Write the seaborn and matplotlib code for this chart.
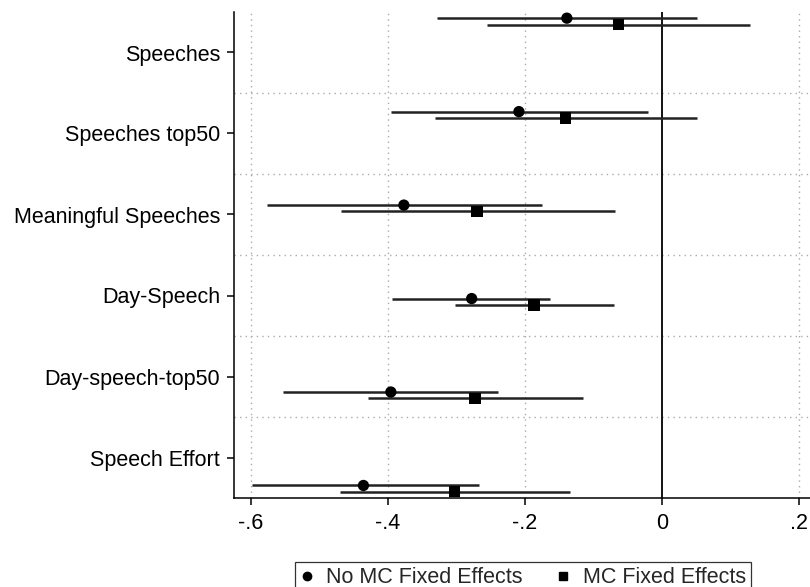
import numpy as np
import pandas as pd
import matplotlib
matplotlib.use('Agg')
import matplotlib.pyplot as plt
from matplotlib.lines import Line2D
from matplotlib.ticker import FuncFormatter
import seaborn as sns

# Outcomes, top to bottom
categories = ['Speeches', 'Speeches top50', 'Meaningful Speeches',
              'Day-Speech', 'Day-speech-top50', 'Speech Effort']

# No MC fixed effects: point estimate and 95% CI
no_mc_coef = [-0.139, -0.209, -0.377, -0.278, -0.396, -0.436]
no_mc_lo = [-0.329, -0.396, -0.577, -0.394, -0.553, -0.599]
no_mc_hi = [0.051, -0.021, -0.176, -0.163, -0.239, -0.268]

# MC fixed effects
mc_coef = [-0.064, -0.141, -0.270, -0.187, -0.273, -0.303]
mc_lo = [-0.256, -0.331, -0.469, -0.303, -0.430, -0.470]
mc_hi = [0.129, 0.051, -0.069, -0.070, -0.115, -0.134]

models = ['No MC Fixed Effects', 'MC Fixed Effects']
x_ticks = [-0.6, -0.4, -0.2, 0.0, 0.2]


def stata_fmt(v, _pos):
    """Stata-style tick labels: -.6, 0, .2"""
    if abs(v) < 1e-9:
        return '0'
    s = f'{v:.1f}'
    return s.replace('0.', '.')


def main():
    sns.set_style('white')
    plt.rcParams['font.family'] = ['Liberation Sans', 'DejaVu Sans']

    n = len(categories)
    rows = np.arange(n)
    offset = 0.034

    df = pd.DataFrame({
        'row': np.concatenate([rows - offset, rows + offset]),
        'coef': no_mc_coef + mc_coef,
        'lo': no_mc_lo + mc_lo,
        'hi': no_mc_hi + mc_hi,
        'model': [models[0]] * n + [models[1]] * n,
    })

    fig = plt.figure(figsize=(8.1, 5.87), dpi=100)
    ax = fig.add_axes([234 / 810, 1 - 498 / 587, 1 - 234 / 810, (498 - 12) / 587])

    ylo, yhi = -0.1, n - 1 + 0.1
    band = (yhi - ylo) / n

    # grid
    for xv in x_ticks:
        if xv != 0:
            ax.axvline(xv, color='#aaaaaa', lw=1.0, ls=(0, (1, 3)), zorder=0)
    for k in range(1, n):
        ax.axhline(ylo + k * band, color='#aaaaaa', lw=1.0, ls=(0, (1, 3)), zorder=0)
    ax.axvline(0, color='black', lw=1.3, zorder=1)

    ax.hlines(df['row'], df['lo'], df['hi'], color='#222222', lw=1.8, zorder=2)
    sns.scatterplot(data=df, x='coef', y='row', style='model', markers={models[0]: 'o', models[1]: 's'},
                    color='black', s=66, edgecolor='none', legend=False, ax=ax, zorder=3)

    ax.set_xlim(-0.625, 0.216)
    ax.set_ylim(yhi, ylo)
    ax.set_xticks(x_ticks)
    ax.xaxis.set_major_formatter(FuncFormatter(stata_fmt))
    ax.set_yticks([ylo + (k + 0.5) * band for k in range(n)])
    ax.set_yticklabels(categories)
    ax.set_xlabel('')
    ax.set_ylabel('')

    for side in ['top', 'right']:
        ax.spines[side].set_visible(False)
    for side in ['left', 'bottom']:
        ax.spines[side].set_color('black')
        ax.spines[side].set_linewidth(1.1)
    ax.tick_params(axis='both', which='major', labelsize=15.5, length=5, width=1.1,
                   color='black', labelcolor='black', direction='out', left=True, bottom=True)
    ax.tick_params(axis='y', pad=5)
    ax.tick_params(axis='x', pad=6)

    handles = [
        Line2D([], [], marker='o', color='black', ls='none', markersize=6),
        Line2D([], [], marker='s', color='black', ls='none', markersize=6),
    ]
    leg = fig.legend(handles, models, loc='upper center', bbox_to_anchor=(523 / 810, 1 - 551 / 587),
                     ncol=2, fontsize=15.5, frameon=True, fancybox=False, edgecolor='black',
                     handlelength=0.6, handletextpad=0.6, columnspacing=1.6, borderpad=0.25)
    leg.get_frame().set_linewidth(0.9)

    plt.savefig('out.png', dpi=100)
    plt.close()


if __name__ == '__main__':
    main()
